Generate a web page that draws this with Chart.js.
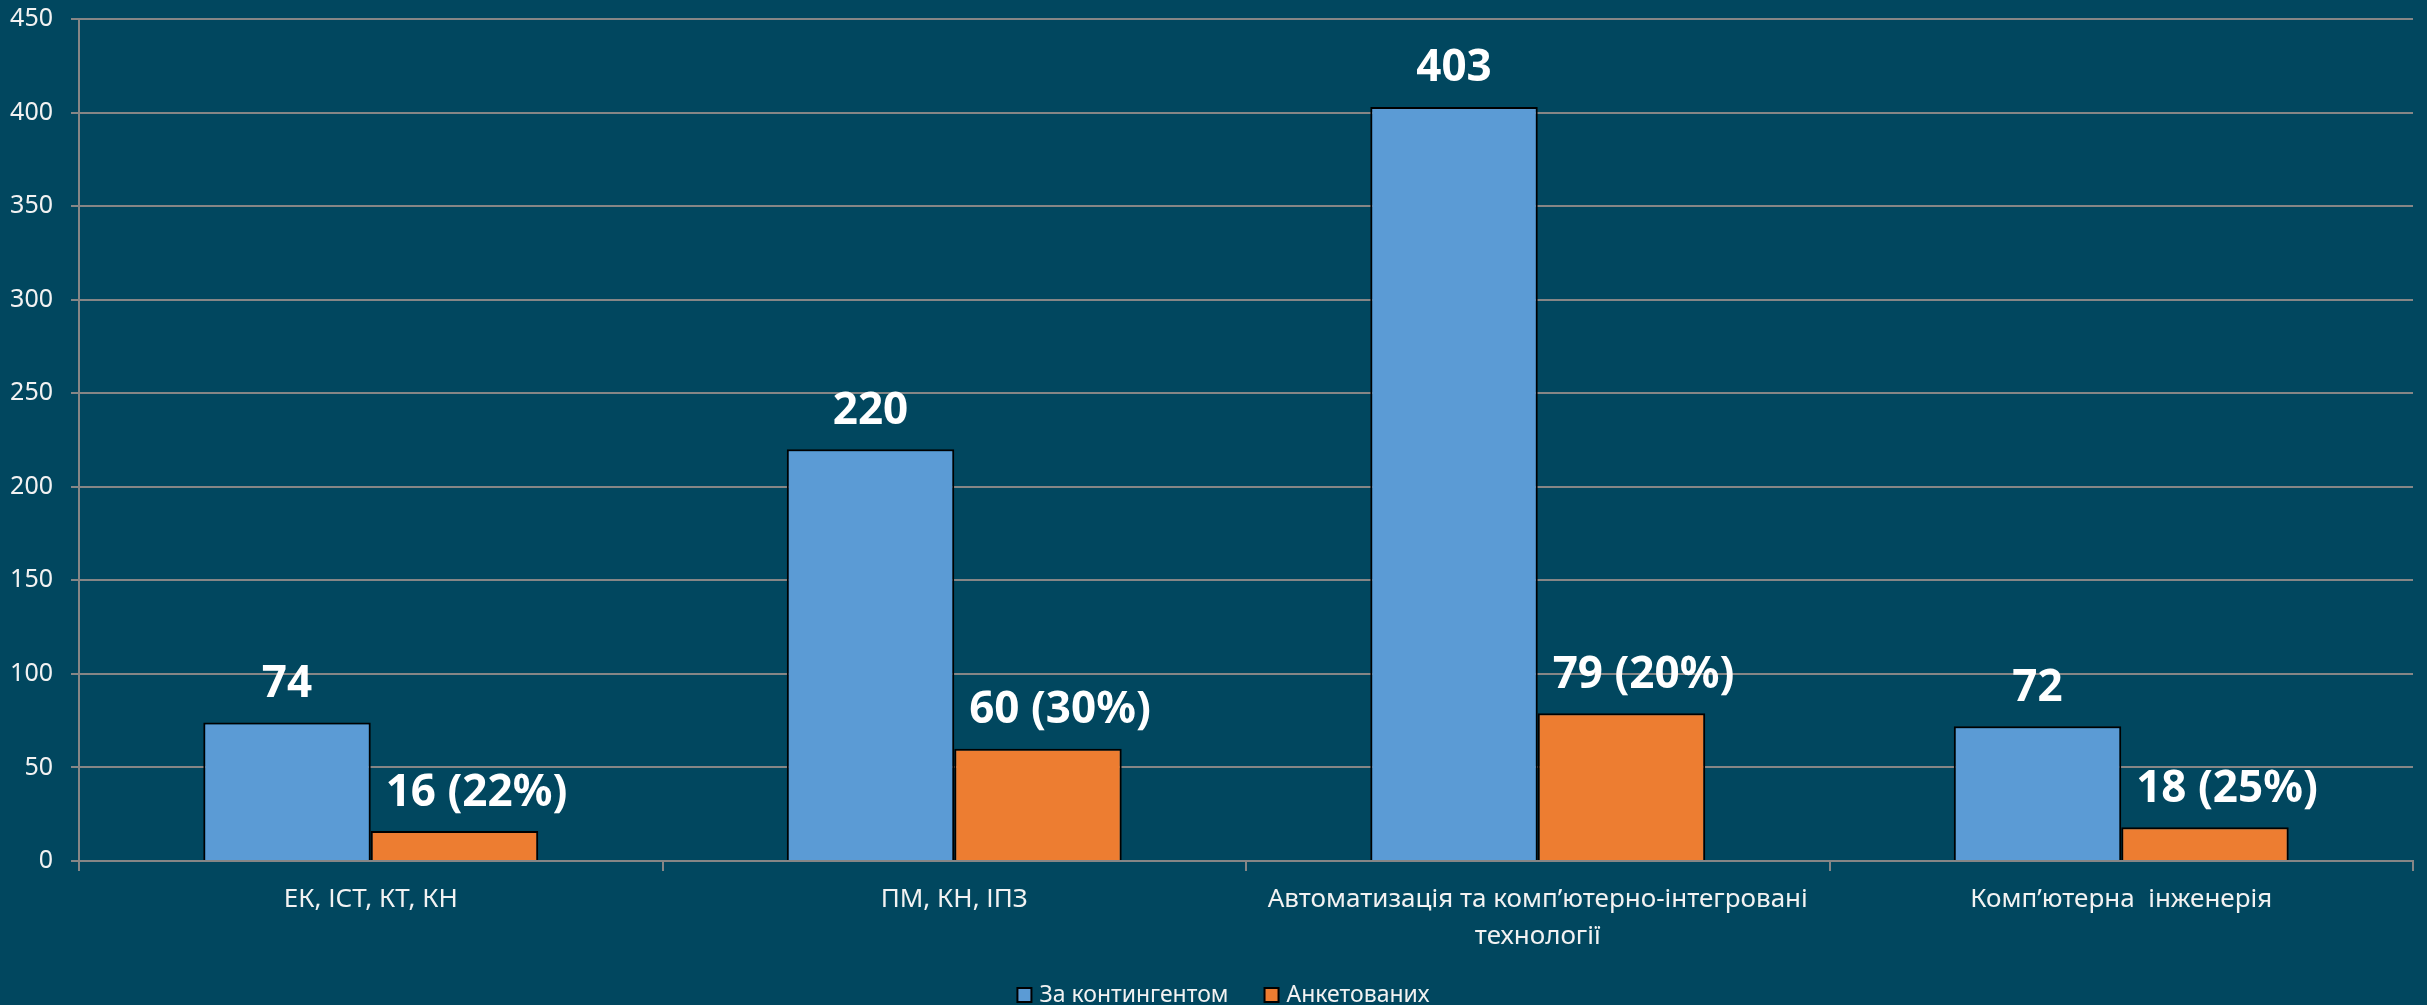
<!DOCTYPE html>
<html>
<head>
<meta charset="utf-8">
<script src="https://cdn.jsdelivr.net/npm/chart.js@4/dist/chart.umd.min.js"></script>
<style>
  body { margin: 0; background: #01475f; }
  #wrap { width: 2427px; height: 1005px; position: relative; }
</style>
</head>
<body>
<div id="wrap"><canvas id="surveyChart"></canvas></div>
<script>
// categories (speciality groups)
const categories = [
  'ЕК, ІСТ, КТ, КН',
  'ПМ, КН, ІПЗ',
  ['Автоматизація та комп’ютерно-інтегровані', 'технології'],
  'Комп’ютерна  інженерія'
];
const contingent = [74, 220, 403, 72];
const surveyed = [16, 60, 79, 18];
const surveyedPct = [22, 30, 20, 25];
const yTicks = [0, 50, 100, 150, 200, 250, 300, 350, 400, 450];

const FONT = 'Noto Sans';
const TEXT = '#f2f2f2';
const GRID = '#868686';

// value labels above the bars
const barLabels = {
  id: 'barLabels',
  afterDatasetsDraw(chart) {
    const ctx = chart.ctx;
    ctx.save();
    ctx.font = 'bold 44px "' + FONT + '"';
    ctx.fillStyle = '#ffffff';
    ctx.textAlign = 'center';
    ctx.textBaseline = 'middle';
    chart.getDatasetMeta(0).data.forEach((bar, i) => {
      ctx.fillText(String(contingent[i]), bar.x, bar.y - 38);
    });
    chart.getDatasetMeta(1).data.forEach((bar, i) => {
      ctx.fillText(surveyed[i] + ' (' + surveyedPct[i] + '%)', bar.x + 22, bar.y - 38);
    });
    ctx.restore();
  }
};

// small legend at the bottom, drawn by hand so the spacing matches
const bottomLegend = {
  id: 'bottomLegend',
  afterDraw(chart) {
    const ctx = chart.ctx;
    const sets = chart.data.datasets;
    const box = 14, gap = 8, itemGap = 36;
    const y = 995;
    ctx.save();
    ctx.font = '23px "' + FONT + '"';
    ctx.textBaseline = 'middle';
    let total = 0;
    sets.forEach((ds, i) => {
      total += box + gap + ctx.measureText(ds.label).width + (i < sets.length - 1 ? itemGap : 0);
    });
    let x = chart.width / 2 + 10 - total / 2;
    sets.forEach(ds => {
      ctx.fillStyle = ds.backgroundColor;
      ctx.fillRect(x, y - box / 2, box, box);
      ctx.strokeStyle = '#000000';
      ctx.lineWidth = 2;
      ctx.strokeRect(x, y - box / 2, box, box);
      x += box + gap;
      ctx.fillStyle = TEXT;
      ctx.fillText(ds.label, x, y);
      x += ctx.measureText(ds.label).width + itemGap;
    });
    ctx.restore();
  }
};

new Chart(document.getElementById('surveyChart'), {
  type: 'bar',
  data: {
    labels: categories,
    datasets: [{
      label: 'За контингентом',
      data: contingent,
      backgroundColor: '#5b9bd5',
      borderColor: '#000000',
      borderWidth: 2,
      categoryPercentage: 0.574,
      barPercentage: 1
    }, {
      label: 'Анкетованих',
      data: surveyed,
      backgroundColor: '#ed7d31',
      borderColor: '#000000',
      borderWidth: 2,
      categoryPercentage: 0.574,
      barPercentage: 1
    }]
  },
  options: {
    responsive: true,
    maintainAspectRatio: false,
    animation: false,
    layout: { padding: { top: 19, right: 14, left: 0, bottom: 0 } },
    plugins: {
      tooltip: { enabled: false },
      legend: { display: false }
    },
    scales: {
      x: {
        grid: {
          display: true,
          drawOnChartArea: false,
          drawTicks: true,
          tickLength: 10,
          color: GRID,
          lineWidth: 2
        },
        border: { color: GRID, width: 2 },
        ticks: {
          color: TEXT,
          font: { family: FONT, size: 26, lineHeight: 1.42 },
          padding: 10,
          maxRotation: 0
        },
        afterFit(scale) { scale.height = 144; }
      },
      y: {
        min: 0,
        max: 450,
        afterBuildTicks(scale) { scale.ticks = yTicks.map(v => ({ value: v })); },
        grid: { color: GRID, lineWidth: 2, tickLength: 8 },
        border: { color: GRID, width: 2 },
        ticks: {
          color: TEXT,
          font: { family: FONT, size: 25 },
          padding: 18
        },
        afterFit(scale) {
          scale.width = 79;
          scale.paddingTop = 0;
          scale.paddingBottom = 0;
        }
      }
    }
  },
  plugins: [barLabels, bottomLegend]
});
</script>
</body>
</html>
